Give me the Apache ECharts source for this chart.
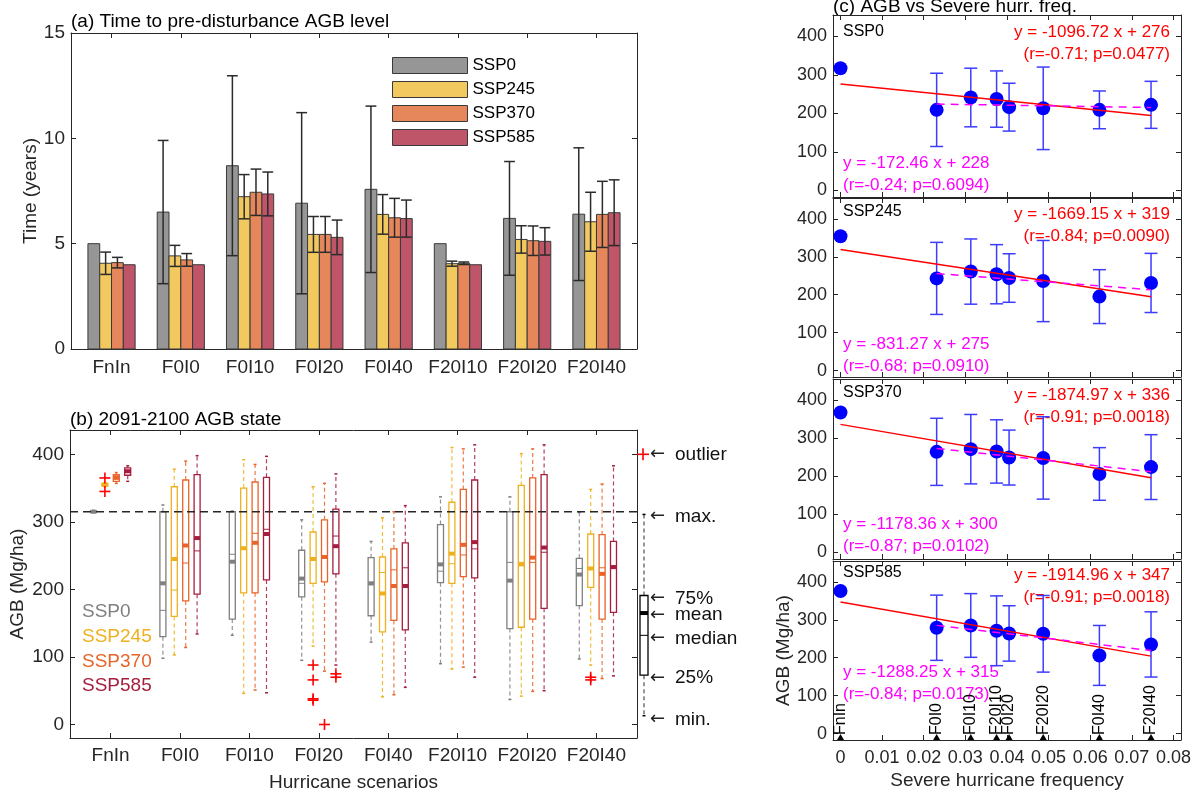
<!DOCTYPE html>
<html>
<head>
<meta charset="utf-8">
<script src="https://cdn.jsdelivr.net/npm/echarts@6/dist/echarts.min.js"></script>
<style>
  html, body { margin: 0; padding: 0; background: #fff; }
  #chart { width: 1194px; height: 793px; }
</style>
</head>
<body>
<div id="chart"></div>
<script>
// ---- data ----
var scenarios = ['FnIn', 'F0I0', 'F0I10', 'F0I20', 'F0I40', 'F20I10', 'F20I20', 'F20I40'];
var sspNames = ['SSP0', 'SSP245', 'SSP370', 'SSP585'];

// (a) years to recover pre-disturbance AGB: mean and +/- error
var timeSSP0   = [5.0, 6.5, 8.7, 6.92, 7.58, 5.0, 6.2, 6.4];
var timeSSP245 = [4.07, 4.42, 7.23, 5.44, 6.39, 4.05, 5.2, 6.04];
var timeSSP370 = [4.1, 4.23, 7.44, 5.44, 6.23, 4.07, 5.14, 6.39];
var timeSSP585 = [4.0, 4.0, 7.36, 5.3, 6.19, 4.0, 5.11, 6.47];
var errSSP0    = [0, 3.4, 4.27, 4.3, 3.95, 0, 2.7, 3.15];
var errSSP245  = [0.53, 0.5, 1.05, 0.85, 0.94, 0.12, 0.65, 1.4];
var errSSP370  = [0.25, 0.3, 1.1, 0.85, 0.92, 0.06, 0.7, 1.57];
var errSSP585  = [0, 0, 1.04, 0.82, 0.88, 0, 0.65, 1.56];

// (b) 2091-2100 AGB box stats per scenario: [min, q1, median, q3, max, mean]
var boxSSP0 = [
  [314, 315, 315, 316, 317, 315], [98, 130, 169, 315, 325, 209], [132, 156, 252, 315, 316, 241],
  [95, 189, 209, 258, 303, 216], [122, 161, 207, 247, 271, 209], [90, 210, 227, 296, 337, 237],
  [37, 142, 240, 315, 337, 213], [97, 176, 231, 246, 314, 222]
];
var boxSSP245 = [
  [352, 353, 355, 357, 358, 355], [103, 160, 199, 352, 378, 245], [46, 195, 262, 350, 392, 261],
  [116, 209, 247, 285, 352, 245], [41, 137, 225, 248, 306, 194], [82, 209, 238, 329, 410, 253],
  [42, 144, 240, 354, 401, 237], [88, 203, 231, 282, 348, 231]
];
var boxSSP370 = [
  [357, 360, 363, 370, 373, 366], [114, 183, 239, 362, 390, 265], [51, 195, 283, 359, 385, 269],
  [79, 211, 250, 303, 357, 248], [44, 154, 229, 260, 315, 205], [85, 219, 251, 348, 408, 266],
  [49, 156, 240, 365, 408, 247], [68, 156, 232, 281, 356, 223]
];
var boxSSP585 = [
  [360, 369, 373, 380, 383, 375], [134, 193, 257, 370, 398, 276], [47, 214, 289, 366, 397, 282],
  [88, 223, 279, 319, 371, 264], [55, 140, 232, 269, 324, 205], [70, 217, 260, 362, 414, 270],
  [50, 172, 255, 370, 414, 262], [72, 166, 235, 271, 383, 233]
];
// outliers: [scenario index, ssp index, AGB]
var outliersB = [[0, 1, 365], [0, 1, 345], [3, 1, 88], [3, 1, 66], [3, 1, 38], [3, 1, 36],
                 [3, 2, 0], [3, 3, 75], [3, 3, 70], [7, 1, 70], [7, 1, 66]];
var preLevel = 315;
// explanation box: [min, q1, median, q3, max, mean, outlier]
var keyStats = [13, 73, 132, 191, 311, 165, 400];
var keyLabels = ['min.', '25%', 'median', '75%', 'max.', 'mean', 'outlier'];

// (c) AGB vs severe hurricane frequency
var freqX      = [0, 0.0231, 0.0313, 0.0375, 0.0405, 0.0487, 0.0622, 0.0746];
var freqLabels = ['FnIn', 'F0I0', 'F0I10', 'F20I10', 'F0I20', 'F20I20', 'F0I40', 'F20I40'];
var agbSSP0   = [317, 209, 241, 237, 216, 213, 209, 222];
var agbSSP245 = [354, 243, 261, 254, 244, 236, 195, 231];
var agbSSP370 = [367, 264, 271, 265, 249, 248, 206, 224];
var agbSSP585 = [376, 279, 285, 271, 264, 263, 206, 235];
var sdSSP0    = [0, 95, 76, 73, 62, 107, 49, 61];
var sdSSP245  = [0, 95, 86, 78, 64, 107, 71, 78];
var sdSSP370  = [0, 88, 91, 83, 72, 108, 69, 85];
var sdSSP585  = [0, 86, 84, 92, 73, 101, 79, 86];
var fitAll   = [[-1096.72, 276], [-1669.15, 319], [-1874.97, 336], [-1914.96, 347]];
var fitDist  = [[-172.46, 228], [-831.27, 275], [-1178.36, 300], [-1288.25, 315]];
var statAll  = ['(r=-0.71; p=0.0477)', '(r=-0.84; p=0.0090)', '(r=-0.91; p=0.0018)', '(r=-0.91; p=0.0018)'];
var statDist = ['(r=-0.24; p=0.6094)', '(r=-0.68; p=0.0910)', '(r=-0.87; p=0.0102)', '(r=-0.84; p=0.0173)'];

// ---- style ----
var FONT = "'Liberation Sans', Arial, Helvetica, sans-serif";
var INK = '#262626';
var barFill = ['#969696', '#F2C95F', '#E6875B', '#BE5568'];
var boxColor = ['#808080', '#EDB120', '#E8642A', '#A51E3E'];
var BAR_W = 11.8, BOX_STEP = 11.4, BOX_W = 6;
var CAT_MIN = -0.585, CAT_MAX = 7.585;
var C_XMIN = -0.0018, C_XMAX = 0.0818, C_YMIN = -17, C_YMAX = 455;

var grids = [
  { left: 71, top: 33, width: 566, height: 316 },
  { left: 70, top: 430, width: 567, height: 311 },
  { left: 833, top: 15, width: 348, height: 182 },
  { left: 833, top: 198, width: 348, height: 179 },
  { left: 833, top: 379, width: 348, height: 180 },
  { left: 833, top: 561, width: 348, height: 179 }
];

var xAxes = [], yAxes = [];
function nameStyle() { return { fontFamily: FONT, fontSize: 19, color: INK }; }
function addAxes(g, xs, ys) {
  ['bottom', 'top'].forEach(function(pos, j) {
    xAxes.push({
      type: 'value', gridIndex: g, position: pos, min: xs.min, max: xs.max,
      splitLine: { show: false },
      axisLine: { show: true, onZero: false, lineStyle: { color: INK, width: 1 } },
      axisTick: { show: true, inside: true, length: 5, customValues: xs.ticks, lineStyle: { color: INK } },
      axisLabel: { show: j === 0 && !!xs.fmt, customValues: xs.ticks, formatter: xs.fmt, color: INK,
                   fontFamily: FONT, fontSize: xs.size || 19, margin: xs.margin || 8 },
      name: j === 0 ? (xs.name || '') : '', nameLocation: 'middle', nameGap: xs.nameGap,
      nameTextStyle: nameStyle()
    });
  });
  ['left', 'right'].forEach(function(pos, j) {
    yAxes.push({
      type: 'value', gridIndex: g, position: pos, min: ys.min, max: ys.max,
      splitLine: { show: false },
      axisLine: { show: true, onZero: false, lineStyle: { color: INK, width: 1 } },
      axisTick: { show: true, inside: true, length: 5, customValues: ys.ticks, lineStyle: { color: INK } },
      axisLabel: { show: j === 0, customValues: ys.ticks, color: INK, fontFamily: FONT,
                   fontSize: ys.size || 19, margin: 6 },
      name: j === 0 ? (ys.name || '') : '', nameLocation: 'middle', nameGap: ys.nameGap,
      nameTextStyle: nameStyle()
    });
  });
}

var catTicks = scenarios.map(function(s, i) { return i; });
var catFmt = function(v) { return scenarios[Math.round(v)]; };
addAxes(0, { min: CAT_MIN, max: CAT_MAX, ticks: catTicks, fmt: catFmt, margin: 9 },
           { min: 0, max: 15, ticks: [0, 5, 10, 15], name: 'Time (years)', nameGap: 31 });
addAxes(1, { min: CAT_MIN, max: CAT_MAX, ticks: catTicks, fmt: catFmt, margin: 8,
             name: 'Hurricane scenarios', nameGap: 35 },
           { min: -20, max: 436, ticks: [0, 100, 200, 300, 400], name: 'AGB (Mg/ha)', nameGap: 43 });
var cTicks = [0, 0.01, 0.02, 0.03, 0.04, 0.05, 0.06, 0.07, 0.08];
for (var s = 0; s < 4; s++) {
  addAxes(2 + s,
    { min: C_XMIN, max: C_XMAX, ticks: cTicks, size: 18, margin: 9,
      fmt: s === 3 ? function(v) { return v === 0 ? '0' : v.toFixed(2); } : null,
      name: s === 3 ? 'Severe hurricane frequency' : '', nameGap: 31 },
    { min: C_YMIN, max: C_YMAX, ticks: [0, 100, 200, 300, 400], size: 18,
      name: s === 3 ? 'AGB (Mg/ha)' : '', nameGap: 28 });
}

var series = [];

// (a) bars with error bars
var timeMeans = [timeSSP0, timeSSP245, timeSSP370, timeSSP585];
var timeErrs = [errSSP0, errSSP245, errSSP370, errSSP585];
sspNames.forEach(function(name, k) {
  series.push({
    type: 'custom', name: name, xAxisIndex: 0, yAxisIndex: 0,
    itemStyle: { color: barFill[k], borderColor: '#3a3a3a', borderWidth: 1 },
    data: scenarios.map(function(sc, i) { return [i, timeMeans[k][i], timeErrs[k][i]]; }),
    renderItem: function(params, api) {
      var i = api.value(0), v = api.value(1), e = api.value(2);
      var p0 = api.coord([i, 0]), p1 = api.coord([i, v]);
      var x = p0[0] + (k - 2) * BAR_W;
      var kids = [{ type: 'rect', shape: { x: x, y: p1[1], width: BAR_W, height: p0[1] - p1[1] },
                    style: { fill: barFill[k], stroke: '#3a3a3a', lineWidth: 1 } }];
      if (e > 0) {
        var hi = api.coord([i, v + e])[1], lo = api.coord([i, v - e])[1], cx = x + BAR_W / 2;
        var st = { stroke: '#2b2b2b', lineWidth: 1.5 };
        kids.push({ type: 'line', shape: { x1: cx, y1: hi, x2: cx, y2: lo }, style: st });
        kids.push({ type: 'line', shape: { x1: x + 0.5, y1: hi, x2: x + BAR_W - 0.5, y2: hi }, style: st });
        kids.push({ type: 'line', shape: { x1: x + 0.5, y1: lo, x2: x + BAR_W - 0.5, y2: lo }, style: st });
      }
      return { type: 'group', children: kids };
    }
  });
});

// (b) box plots
var boxSets = [boxSSP0, boxSSP245, boxSSP370, boxSSP585];
function drawBox(cx, ys, c, w, whiskerColor) {
  var hw = w / 2;
  var dash = { stroke: whiskerColor, lineWidth: 1.2, lineDash: [4, 3], opacity: 0.85 };
  var solid = { stroke: c, lineWidth: 1.5 };
  return [
    { type: 'line', shape: { x1: cx, y1: ys.q3, x2: cx, y2: ys.max }, style: dash },
    { type: 'line', shape: { x1: cx, y1: ys.q1, x2: cx, y2: ys.min }, style: dash },
    { type: 'line', shape: { x1: cx - 1.5, y1: ys.max, x2: cx + 1.5, y2: ys.max }, style: solid },
    { type: 'line', shape: { x1: cx - 1.5, y1: ys.min, x2: cx + 1.5, y2: ys.min }, style: solid },
    { type: 'rect', shape: { x: cx - hw, y: ys.q3, width: w, height: ys.q1 - ys.q3 },
      style: { fill: 'none', stroke: c, lineWidth: 1.3 } },
    { type: 'line', shape: { x1: cx - hw, y1: ys.med, x2: cx + hw, y2: ys.med }, style: { stroke: c, lineWidth: 1 } },
    { type: 'rect', shape: { x: cx - hw, y: ys.mean - 2, width: w, height: 4 }, style: { fill: c } }
  ];
}
boxSets.forEach(function(set, k) {
  series.push({
    type: 'custom', xAxisIndex: 2, yAxisIndex: 2,
    data: set.map(function(st, i) { return [i].concat(st); }),
    renderItem: function(params, api) {
      var i = api.value(0);
      var cx = api.coord([i, 0])[0] + (k - 1.5) * BOX_STEP;
      var Y = function(j) { return api.coord([i, api.value(j)])[1]; };
      var ys = { min: Y(1), q1: Y(2), med: Y(3), q3: Y(4), max: Y(5), mean: Y(6) };
      return { type: 'group', children: drawBox(cx, ys, boxColor[k], BOX_W, boxColor[k]) };
    }
  });
});
function plusMark(cx, cy, r) {
  var st = { stroke: '#ff0000', lineWidth: 1.6 };
  return [
    { type: 'line', shape: { x1: cx - r, y1: cy, x2: cx + r, y2: cy }, style: st },
    { type: 'line', shape: { x1: cx, y1: cy - r, x2: cx, y2: cy + r }, style: st }
  ];
}
series.push({
  type: 'custom', xAxisIndex: 2, yAxisIndex: 2, data: outliersB,
  renderItem: function(params, api) {
    var p = api.coord([api.value(0), api.value(2)]);
    return { type: 'group', children: plusMark(p[0] + (api.value(1) - 1.5) * BOX_STEP, p[1], 5.5) };
  }
});
series.push({
  type: 'line', xAxisIndex: 2, yAxisIndex: 2, symbol: 'none', silent: true, z: 5,
  data: [[CAT_MIN, preLevel], [CAT_MAX, preLevel]],
  lineStyle: { color: '#262626', width: 1.5, type: [8, 5] }
});
// explanation box beside panel (b)
series.push({
  type: 'custom', xAxisIndex: 2, yAxisIndex: 2, clip: false, data: [[0]],
  renderItem: function(params, api) {
    var xr = api.coord([CAT_MAX, 0])[0];
    var Y = function(v) { return api.coord([CAT_MAX, v])[1]; };
    var cx = xr + 7;
    var ys = { min: Y(keyStats[0]), q1: Y(keyStats[1]), med: Y(keyStats[2]), q3: Y(keyStats[3]),
               max: Y(keyStats[4]), mean: Y(keyStats[5]) };
    var kids = drawBox(cx, ys, '#000', 8, '#333');
    kids = kids.concat(plusMark(cx - 1, Y(keyStats[6]), 6));
    var yPos = [ys.min + 4, ys.q1 + 3, ys.med + 3, ys.q3 + 3, ys.max + 2, ys.mean + 2, Y(keyStats[6])];
    keyLabels.forEach(function(lab, j) {
      kids.push({ type: 'text', x: xr + 13, y: yPos[j],
        style: { text: '\u2190', fontFamily: 'DejaVu Sans', fontSize: 18, fill: '#222', verticalAlign: 'middle' } });
      kids.push({ type: 'text', x: xr + 38, y: yPos[j],
        style: { text: lab, fontFamily: FONT, fontSize: 19, fill: '#111', verticalAlign: 'middle' } });
    });
    return { type: 'group', children: kids };
  }
});

// (c) four stacked panels
var agbSets = [agbSSP0, agbSSP245, agbSSP370, agbSSP585];
var sdSets = [sdSSP0, sdSSP245, sdSSP370, sdSSP585];
for (var s2 = 0; s2 < 4; s2++) {
  (function(s) {
    var ax = 2 * (2 + s);
    var a = fitAll[s], b = fitDist[s];
    var x0 = freqX[0], x1 = freqX[1], xe = freqX[freqX.length - 1];
    series.push({
      type: 'custom', xAxisIndex: ax, yAxisIndex: ax,
      data: freqX.map(function(x, i) { return [x, agbSets[s][i], sdSets[s][i]]; }),
      renderItem: function(params, api) {
        var x = api.value(0), m = api.value(1), d = api.value(2);
        if (!(d > 0)) return { type: 'group', children: [] };
        var hi = api.coord([x, m + d]), lo = api.coord([x, m - d]);
        var st = { stroke: '#3c3cff', lineWidth: 1.5 };
        return { type: 'group', children: [
          { type: 'line', shape: { x1: hi[0], y1: hi[1], x2: lo[0], y2: lo[1] }, style: st },
          { type: 'line', shape: { x1: hi[0] - 6.5, y1: hi[1], x2: hi[0] + 6.5, y2: hi[1] }, style: st },
          { type: 'line', shape: { x1: lo[0] - 6.5, y1: lo[1], x2: lo[0] + 6.5, y2: lo[1] }, style: st }
        ] };
      }
    });
    series.push({
      type: 'scatter', xAxisIndex: ax, yAxisIndex: ax, symbolSize: 14, z: 3,
      itemStyle: { color: '#0000ff', opacity: 1 },
      data: freqX.map(function(x, i) { return [x, agbSets[s][i]]; })
    });
    series.push({
      type: 'line', xAxisIndex: ax, yAxisIndex: ax, symbol: 'none', z: 4, silent: true,
      lineStyle: { color: '#ff0000', width: 1.5 },
      data: [[x0, a[0] * x0 + a[1]], [xe, a[0] * xe + a[1]]]
    });
    series.push({
      type: 'line', xAxisIndex: ax, yAxisIndex: ax, symbol: 'none', z: 4, silent: true,
      lineStyle: { color: '#ff00ff', width: 1.5, type: [8, 6] },
      data: [[x1, b[0] * x1 + b[1]], [xe, b[0] * xe + b[1]]]
    });
  })(s2);
}
// scenario markers along the bottom axis of the last panel
series.push({
  type: 'custom', xAxisIndex: 10, yAxisIndex: 10, clip: false, z: 6,
  data: freqX.map(function(x, i) { return [x, i]; }),
  renderItem: function(params, api) {
    var p = api.coord([api.value(0), C_YMIN]);
    return { type: 'group', children: [
      { type: 'polygon', shape: { points: [[p[0] - 3.5, p[1]], [p[0] + 3.5, p[1]], [p[0], p[1] - 6]] },
        style: { fill: '#000' } },
      { type: 'text', x: p[0], y: p[1] - 5, rotation: Math.PI / 2,
        style: { text: freqLabels[api.value(1)], fontFamily: FONT, fontSize: 16, fill: '#000',
                 align: 'left', verticalAlign: 'middle' } }
    ] };
  }
});

// ---- texts ----
function txt(x, y, text, size, color, align, vAlign) {
  return { type: 'text', x: x, y: y, silent: true,
    style: { text: text, fontFamily: FONT, fontSize: size, fill: color,
             align: align || 'left', verticalAlign: vAlign || 'middle' } };
}
var graphics = [
  txt(71, 31, '(a) Time to pre-disturbance AGB level', 19, '#000', 'left', 'bottom'),
  txt(70, 429, '(b) 2091-2100 AGB state', 19, '#000', 'left', 'bottom'),
  txt(833, 16, '(c) AGB vs Severe hurr. freq.', 19, '#000', 'left', 'bottom')
];
var legendY = [612, 637, 662, 686];
sspNames.forEach(function(n, k) { graphics.push(txt(82, legendY[k], n, 19, boxColor[k])); });
var sspDy = [17, 14, 14, 12], redDy = [17, 16, 16, 14], magDy = [148, 146, 145, 111];
fitAll.forEach(function(f, s) {
  var g = grids[2 + s];
  graphics.push(txt(g.left + 10, g.top + sspDy[s], sspNames[s], 16, '#000'));
  graphics.push(txt(g.left + 337, g.top + redDy[s], 'y = ' + f[0].toFixed(2) + ' x + ' + f[1], 17, '#ff0000', 'right'));
  graphics.push(txt(g.left + 337, g.top + redDy[s] + 22, statAll[s], 17, '#ff0000', 'right'));
  graphics.push(txt(g.left + 10, g.top + magDy[s], 'y = ' + fitDist[s][0].toFixed(2) + ' x + ' + fitDist[s][1], 17, '#ff00ff'));
  graphics.push(txt(g.left + 10, g.top + magDy[s] + 22, statDist[s], 17, '#ff00ff'));
});

var chart = echarts.init(document.getElementById('chart'), null, { renderer: 'canvas' });
chart.setOption({
  animation: false,
  backgroundColor: '#ffffff',
  textStyle: { fontFamily: FONT },
  grid: grids,
  xAxis: xAxes,
  yAxis: yAxes,
  legend: {
    data: sspNames.map(function(n, k) {
      return { name: n, itemStyle: { color: barFill[k], borderColor: '#3a3a3a', borderWidth: 1 } };
    }),
    orient: 'vertical', left: 392, top: 57, padding: 0, itemGap: 7,
    itemWidth: 75, itemHeight: 16, icon: 'rect', selectedMode: false,
    textStyle: { fontFamily: FONT, fontSize: 17, color: '#000' }
  },
  graphic: graphics,
  series: series
});
</script>
</body>
</html>
